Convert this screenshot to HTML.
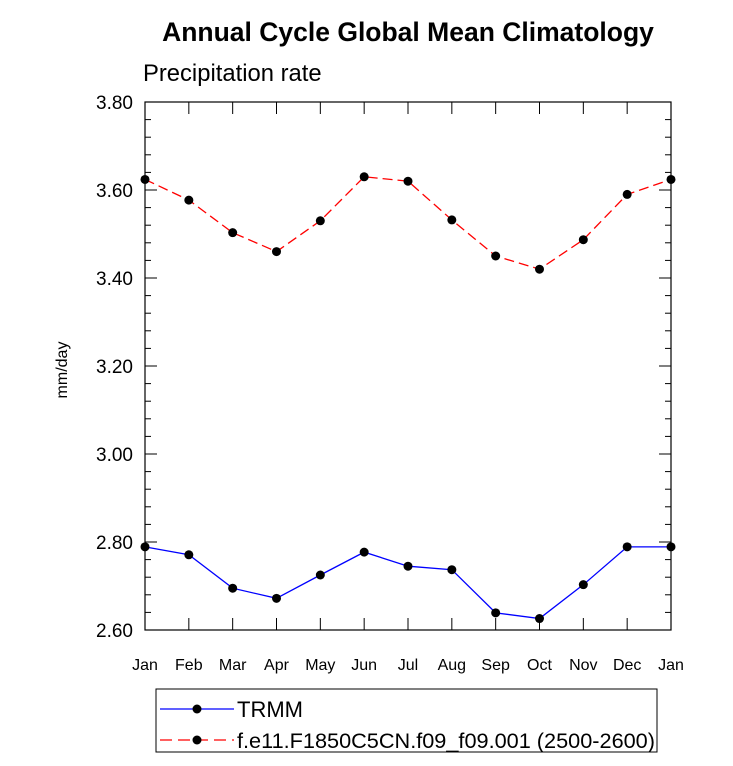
<!DOCTYPE html>
<html><head><meta charset="utf-8"><style>body{margin:0;background:#fff}svg{display:block}text{font-family:"Liberation Sans",sans-serif}</style></head>
<body>
<svg id="c" width="733" height="766"></svg>
<script>
const months=["Jan","Feb","Mar","Apr","May","Jun","Jul","Aug","Sep","Oct","Nov","Dec","Jan"];
const model=[3.624,3.577,3.503,3.460,3.530,3.630,3.620,3.532,3.450,3.420,3.487,3.590,3.624];
const trmm=[2.789,2.771,2.695,2.672,2.725,2.777,2.745,2.737,2.639,2.626,2.703,2.789,2.789];
const yTicks=[2.6,2.8,3.0,3.2,3.4,3.6,3.8];
const L=145,R=671,T=102,B=630,ymin=2.6,ymax=3.8;
const xs=i=>L+i*(R-L)/12, ys=v=>B-(v-ymin)/(ymax-ymin)*(B-T);
const s=document.getElementById('c');const NS="http://www.w3.org/2000/svg";
function mk(t,a,p){const e=document.createElementNS(NS,t);for(const k in a)e.setAttribute(k,a[k]);(p||s).appendChild(e);return e;}
let e;
e=mk('text',{x:408,y:41,'text-anchor':'middle','font-size':26.5,'font-weight':'bold'});e.textContent="Annual Cycle Global Mean Climatology";


e=mk('text',{x:143,y:81,'font-size':23.8});e.textContent="Precipitation rate";


e=mk('text',{x:67,y:370,'text-anchor':'middle','font-size':16,transform:'rotate(-90 67 370)'});e.textContent="mm/day";


e=mk('rect',{x:L,y:T,width:R-L,height:B-T,fill:'none',stroke:'#000','stroke-width':1.2});


for(let v=2.6;v<=3.8001;v+=0.04){const y=ys(v);const maj=yTicks.some(t=>Math.abs(t-v)<1e-6);const len=maj?12:6;
mk('line',{x1:L,x2:L+len,y1:y,y2:y,stroke:'#000'});mk('line',{x1:R,x2:R-len,y1:y,y2:y,stroke:'#000'});}
yTicks.forEach(v=>{e=mk('text',{x:L-12,y:ys(v)+7,'text-anchor':'end','font-size':19});e.textContent=v.toFixed(2);

});
months.forEach((m,i)=>{const x=xs(i);mk('line',{x1:x,x2:x,y1:B,y2:B-12,stroke:'#000'});mk('line',{x1:x,x2:x,y1:T,y2:T+12,stroke:'#000'});
e=mk('text',{x:x,y:B+40,'text-anchor':'middle','font-size':16});e.textContent=m;

});
function series(d,col,dash,name){const g=mk('g',{});


mk('polyline',{points:d.map((v,i)=>xs(i)+','+ys(v)).join(' '),fill:'none',stroke:col,'stroke-width':1.3,'stroke-dasharray':dash},g);
d.forEach((v,i)=>{const c=mk('circle',{cx:xs(i),cy:ys(v),r:4.5,fill:'#000'},g);

});}
series(trmm,'#0000ff','none','trmm-series');
series(model,'#ff0000','10 5','model-series');
e=mk('rect',{x:156,y:689,width:501,height:63,fill:'none',stroke:'#000'});


mk('line',{x1:160,x2:234,y1:709,y2:709,stroke:'#0000ff','stroke-width':1.3});mk('circle',{cx:197,cy:709,r:4.5});
e=mk('text',{x:237,y:717,'font-size':22});e.textContent="TRMM";


mk('line',{x1:160,x2:234,y1:740,y2:740,stroke:'#ff0000','stroke-width':1.3,'stroke-dasharray':'12 6'});mk('circle',{cx:197,cy:740,r:4.5});
e=mk('text',{x:237,y:748,'font-size':21.7});e.textContent="f.e11.F1850C5CN.f09_f09.001 (2500-2600)";


</script>
</body></html>
